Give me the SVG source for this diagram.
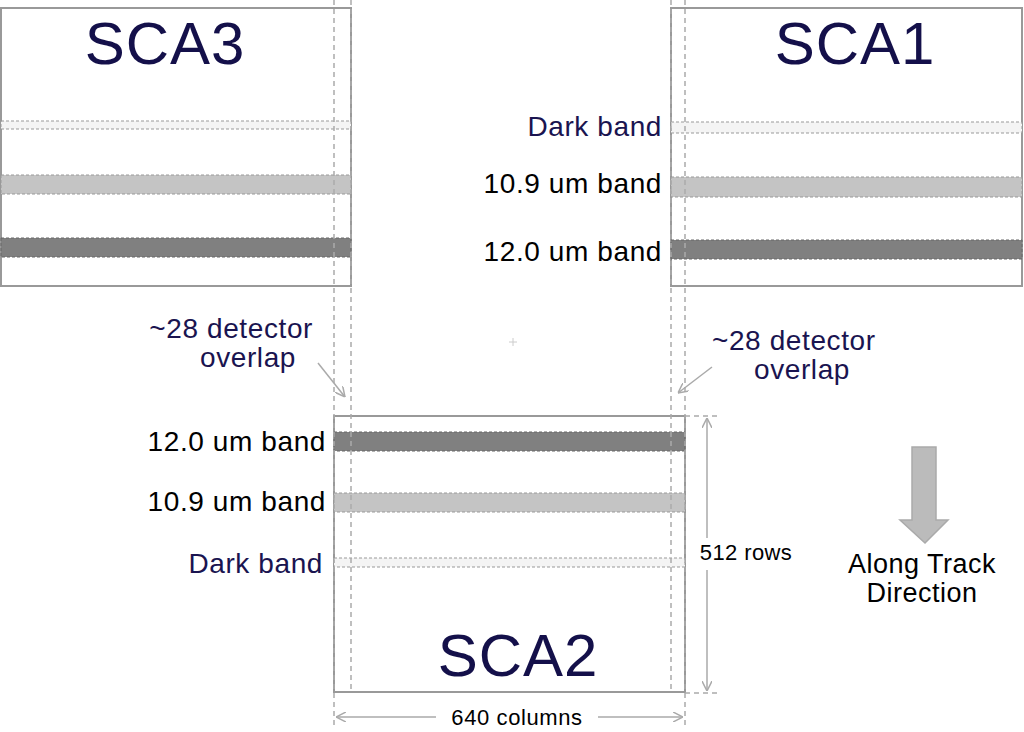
<svg xmlns="http://www.w3.org/2000/svg" width="1024" height="732" viewBox="0 0 1024 732">
<defs>
<style>
text{font-family:"Liberation Sans",Arial,sans-serif}
.t{font-size:60px;fill:#14104a;text-anchor:middle;letter-spacing:1px}
.lb{font-size:28px;fill:#000;text-anchor:end;letter-spacing:0.6px}
.nv{fill:#1a1450}
.box{fill:#fff;stroke:#999;stroke-width:2}
.dk{fill:#808080;stroke:#666;stroke-width:1;stroke-dasharray:3 2}
.md{fill:#c4c4c4;stroke:#999;stroke-width:1;stroke-dasharray:3 2}
.lt{fill:#f4f4f4;stroke:#999;stroke-width:1;stroke-dasharray:3 2}
.dash{stroke:#aaa;stroke-width:1.5;stroke-dasharray:5 4;fill:none}
.dim{stroke:#aaa;stroke-width:1.5;fill:none}
</style>
<marker id="ah" viewBox="0 0 10 10" refX="10" refY="5" markerWidth="10" markerHeight="10" orient="auto-start-reverse" markerUnits="userSpaceOnUse"><path d="M0,0 L10,5 L0,10" fill="none" stroke="#aaa" stroke-width="1.5"/></marker>
</defs>
<rect width="1024" height="732" fill="#fff"/>
<g id="sca3">
<rect class="box" x="1" y="8" width="350" height="278"/>
<rect class="lt" x="1" y="121" width="350" height="8"/>
<rect class="md" x="1" y="175" width="350" height="19"/>
<rect class="dk" x="1" y="238" width="350" height="19"/>
<text class="t" x="165" y="64">SCA3</text>
</g>
<g id="sca1">
<rect class="box" x="671" y="8" width="351" height="278"/>
<rect class="lt" x="671" y="122" width="351" height="11"/>
<rect class="md" x="671" y="177" width="351" height="20"/>
<rect class="dk" x="671" y="240" width="351" height="19"/>
<text class="t" x="855" y="64">SCA1</text>
<text class="lb nv" x="662" y="136">Dark band</text>
<text class="lb" x="662" y="193">10.9 um band</text>
<text class="lb" x="662" y="261">12.0 um band</text>
</g>
<g id="sca2">
<rect class="box" x="334" y="416" width="351" height="276"/>
<rect class="dk" x="334" y="432" width="351" height="19"/>
<rect class="md" x="334" y="493" width="351" height="19"/>
<rect class="lt" x="334" y="558" width="351" height="9"/>
<text class="t" x="518" y="676">SCA2</text>
<text class="lb" x="326" y="451">12.0 um band</text>
<text class="lb" x="326" y="511">10.9 um band</text>
<text class="lb nv" x="323" y="573">Dark band</text>
</g>
<g id="connectors">
<line class="dash" x1="334" y1="0" x2="334" y2="728"/>
<line class="dash" x1="351" y1="0" x2="351" y2="692"/>
<line class="dash" x1="671" y1="0" x2="671" y2="692"/>
<line class="dash" x1="685" y1="0" x2="685" y2="728"/>
<line class="dash" x1="685" y1="416" x2="718" y2="416"/>
<line class="dash" x1="685" y1="693" x2="718" y2="693"/>
<line class="dim" x1="707" y1="418" x2="707" y2="538" marker-start="url(#ah)"/>
<line class="dim" x1="707" y1="570" x2="707" y2="691" marker-end="url(#ah)"/>
<line class="dim" x1="336" y1="717" x2="436" y2="717" marker-start="url(#ah)"/>
<line class="dim" x1="598" y1="717" x2="683" y2="717" marker-end="url(#ah)"/>
<line class="dim" x1="318" y1="363" x2="345" y2="397" marker-end="url(#ah)"/>
<line class="dim" x1="712" y1="367" x2="678" y2="393" marker-end="url(#ah)"/>
<path d="M509,342 h8 M513,338 v8" stroke="#ccc" stroke-width="1"/>
</g>
<g id="labels">
<text class="lb nv" x="313" y="338">~28 detector</text>
<text class="lb nv" x="296" y="367">overlap</text>
<text class="lb nv" x="712" y="350" style="text-anchor:start">~28 detector</text>
<text class="lb nv" x="802" y="379" style="text-anchor:middle">overlap</text>
<text x="746" y="560" style="font-size:22px;text-anchor:middle;letter-spacing:0.4px">512 rows</text>
<text x="517" y="725" style="font-size:22px;text-anchor:middle;letter-spacing:0.6px">640 columns</text>
</g>
<g id="direction">
<path d="M912,447 H936 V520 H948 L925,543 L900,520 H912 Z" fill="#bbb" stroke="#aaa" stroke-width="1.5"/>
<text x="922" y="573" style="font-size:27px;text-anchor:middle;letter-spacing:0.5px">Along Track</text>
<text x="922" y="602" style="font-size:27px;text-anchor:middle;letter-spacing:0.5px">Direction</text>
</g>
</svg>
